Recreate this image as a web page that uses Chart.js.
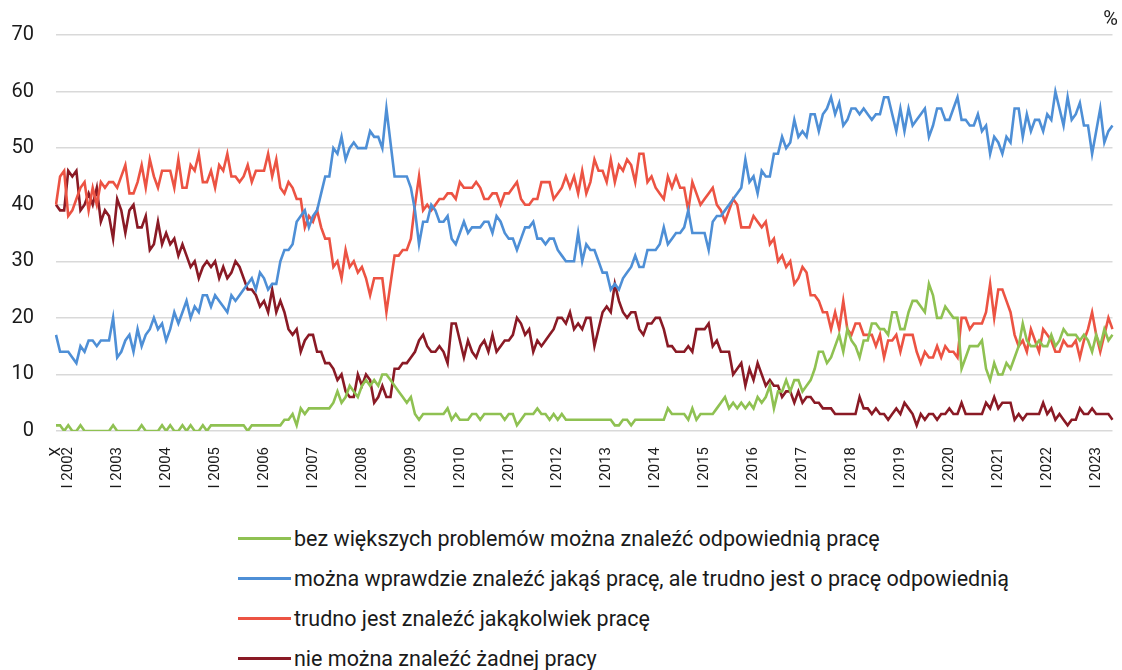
<!DOCTYPE html>
<html><head><meta charset="utf-8">
<script src="https://cdn.jsdelivr.net/npm/chart.js@4.4.1/dist/chart.umd.min.js"></script>
<style>
html,body{margin:0;padding:0;background:#fff;}
#wrap{position:relative;width:1122px;height:670px;font-family:Roboto,"Noto Sans",sans-serif;color:#1a1a1a;overflow:hidden;}
#cbox{position:absolute;left:0;top:0;width:1122px;height:500px;}
#legend{position:absolute;left:238px;top:518px;}
.item{height:40px;display:flex;align-items:center;font-size:21.5px;white-space:nowrap;}
.swatch{width:53px;height:3px;margin-right:3px;}
</style></head><body>
<div id="wrap"><div id="cbox"><canvas id="c"></canvas></div><div id="legend"></div></div>
<script>
const seriesNames = [
  "bez większych problemów można znaleźć odpowiednią pracę",
  "można wprawdzie znaleźć jakąś pracę, ale trudno jest o pracę odpowiednią",
  "trudno jest znaleźć jakąkolwiek pracę",
  "nie można znaleźć żadnej pracy"
];
const tickLabels = ["X","I 2002","I 2003","I 2004","I 2005","I 2006","I 2007","I 2008","I 2009","I 2010","I 2011","I 2012","I 2013","I 2014","I 2015","I 2016","I 2017","I 2018","I 2019","I 2020","I 2021","I 2022","I 2023"];
const green = [1,1,0,1,0,0,1,0,0,0, 0,0,0,0,1,0,0,0,0,0, 0,1,0,0,0,0,1,0,1,0, 0,1,0,1,0,0,1,0,1,1, 1,1,1,1,1,1,1,0,1,1, 1,1,
1,1,1,1,2,2,3,1,4,3, 4,4,4,4,4,4,5,7,5,6, 8,7,6,8,9,8,9,8,10,10, 9,8,7,6,5,6,3,2,3,3, 3,3,3,3,4,2,3,2,2,2, 3,
3,2,3,3,3,3,3,2,3,3, 1,2,3,3,3,4,3,3,2,3, 2,3,2,2,2,2,2,2,2,2, 2,2,2,2,1,1,2,2,1,2, 2,2,2,2,2,2,2,4,3,3, 3,3,
2,4,2,3,3,3,3,4,5,6, 4,5,4,5,4,5,4,6,5,6, 8,4,7,7,9,7,9,9,7,8, 9,11,14,14,12,13,15,17,14,18, 16,15,13,16,16,19,19,18,18,
17,21,21,18,18,21,23,23,22,21, 26,24,20,20,22,21,20,20,11,13, 15,15,15,16,11,9,12,10,10,12, 11,13,15,19,16,15,15,16,15,15, 17,15,16,18,17,17,17,16,17,16, 14,17,15,18,16,17];
const blue = [17,14,14,14,13,12,15,14,16,16, 15,16,16,16,20,13,14,16,17,14, 18,15,17,18,20,18,19,16,18,21, 19,21,23,20,22,21,24,24,22,24, 23,22,21,24,23,24,25,26,27,25, 28,27,
25,26,26,30,32,32,33,37,38,39, 36,38,39,42,45,45,50,49,52,48, 50,51,50,50,50,53,52,52,50,57, 51,45,45,45,45,43,39,33,37,37, 40,39,37,37,38,34,33,35,37,35, 36,
36,36,37,37,35,38,37,35,34,34, 32,34,36,36,37,34,34,33,34,34, 32,31,30,30,30,35,30,33,32,32, 30,28,28,25,26,25,27,28,29,31, 29,29,32,32,32,33,36,33,34,35, 35,36,
39,35,35,35,35,32,37,38,38,39, 40,41,42,43,48,44,45,42,46,45, 45,49,49,52,50,51,55,52,53,52, 56,56,53,56,57,59,56,58,54,55, 57,57,56,57,56,55,56,56,59,
59,56,53,57,53,57,54,55,56,57, 52,54,57,57,55,55,57,59,55,55, 54,54,56,53,54,49,52,51,49,52, 51,57,57,52,56,53,55,55,53,56, 55,60,57,54,59,55,56,58,54,54, 49,53,57,51,53,54];
const red = [40,45,46,38,39,41,43,44,39,43, 40,44,43,44,44,43,45,47,42,42, 44,47,43,48,45,43,46,46,46,43, 48,43,43,47,46,49,44,44,46,43, 47,46,49,45,45,44,45,47,44,46, 46,46,
49,45,48,43,42,44,43,41,41,36, 38,37,39,36,34,34,29,30,27,32, 29,30,28,29,27,24,27,27,27,21, 26,31,31,32,32,34,40,45,39,40, 39,40,41,41,42,42,41,44,43,43, 43,
44,43,41,41,42,42,40,42,42,43, 44,41,40,40,41,41,44,44,44,41, 42,43,45,43,45,42,46,42,44,48, 46,46,44,48,44,47,46,48,47,44, 49,49,44,45,43,42,41,45,43,45, 43,43,
39,44,42,40,41,42,43,40,39,37, 39,41,40,36,36,36,38,37,36,37, 33,34,30,31,29,30,26,27,29,28, 24,24,23,21,21,18,21,18,23,18, 17,19,19,17,17,17,15,17,13,
16,16,17,14,17,17,17,14,12,14, 13,13,15,13,15,14,14,13,20,20, 18,19,19,19,21,26,20,25,25,23, 21,17,15,16,14,18,16,14,18,17, 16,14,14,16,15,15,16,13,16,18, 21,17,14,17,20,18];
const darkRed = [40,39,39,46,45,46,39,40,42,40, 43,37,39,38,34,41,39,35,39,40, 36,36,38,32,33,37,33,35,33,34, 31,33,31,29,30,27,29,30,29,30, 27,29,27,28,30,29,27,25,25,24, 22,23,
21,25,21,23,21,18,17,18,14,16, 17,17,14,14,12,12,11,9,10,7, 6,6,10,8,10,9,5,6,8,6, 6,11,11,12,12,13,14,16,17,15, 14,14,15,14,12,19,19,16,13,16, 14,
13,15,16,14,17,14,15,16,16,17, 20,19,17,18,14,16,15,16,17,18, 20,20,19,21,18,19,18,20,20,15, 18,21,22,21,26,23,21,20,21,21, 18,17,19,19,20,20,18,15,15,14, 14,14,
15,14,18,18,18,19,15,16,14,14, 14,10,11,12,8,11,9,12,10,8, 9,8,8,6,7,7,5,7,5,6, 6,5,5,4,4,4,3,3,3,3, 3,3,6,4,4,3,4,3,3,
2,3,4,3,5,4,3,1,3,2, 3,3,2,3,3,4,3,3,5,3, 3,3,3,3,5,4,6,4,5,5, 5,2,3,2,3,3,3,3,5,3, 4,2,3,2,1,2,2,4,3,3, 4,3,3,3,3,2];

const romanMonths = ["I","II","III","IV","V","VI","VII","VIII","IX","X","XI","XII"];
const categories = [];
for (let k = 0; k < green.length; k++) {
  const m = (9 + k) % 12, y = 2001 + Math.floor((9 + k) / 12);
  categories.push(romanMonths[m] + " " + y);
}
const colors = ["#8fc152", "#4e8fd6", "#ec5343", "#8a1a25"];
const values = [green, blue, red, darkRed];

Chart.defaults.font.family = "Roboto, 'Noto Sans', sans-serif";
Chart.defaults.color = "#1a1a1a";

const pctPlugin = {
  id: 'pct',
  afterDraw(chart) {
    const ctx = chart.ctx;
    ctx.save();
    ctx.font = "20px Roboto";
    ctx.fillStyle = "#1a1a1a";
    ctx.textAlign = "right";
    ctx.textBaseline = "middle";
    ctx.fillText("%", 1118, 20);
    ctx.restore();
  }
};

new Chart(document.getElementById('c'), {
  type: 'line',
  data: {
    labels: categories,
    datasets: values.map((v, i) => ({
      label: seriesNames[i], data: v, borderColor: colors[i], backgroundColor: colors[i],
      borderWidth: 2.6, pointRadius: 0, tension: 0, fill: false
    }))
  },
  options: {
    responsive: true, maintainAspectRatio: false, animation: false,
    layout: { padding: { top: 35, right: 9.5, left: 0, bottom: 0 } },
    plugins: { legend: { display: false }, tooltip: { enabled: false } },
    scales: {
      x: {
        grid: { display: false }, border: { display: false },
        ticks: {
          autoSkip: false, maxRotation: 90, minRotation: 90, padding: 8,
          font: { size: 15 }, color: "#1a1a1a",
          callback: function(val, idx) {
            if (idx === 0) return tickLabels[0];
            const c = categories[idx];
            return tickLabels.includes(c) ? c : '';
          }
        },
        afterFit(s) { s.height = 69; s.paddingLeft = 0; s.paddingRight = 0; }
      },
      y: {
        min: 0, max: 70,
        grid: { color: "#d9d9d9", lineWidth: 1.5, drawTicks: false },
        border: { display: false },
        ticks: { stepSize: 10, padding: 22, font: { size: 20 }, color: "#1a1a1a" },
        afterFit(s) { s.width = 56; }
      }
    }
  },
  plugins: [pctPlugin]
});

const lg = document.getElementById('legend');
seriesNames.forEach((n, i) => {
  const row = document.createElement('div'); row.className = 'item';
  const sw = document.createElement('span'); sw.className = 'swatch'; sw.style.background = colors[i];
  const tx = document.createElement('span'); tx.textContent = n;
  row.appendChild(sw); row.appendChild(tx); lg.appendChild(row);
});
</script>
</body></html>
